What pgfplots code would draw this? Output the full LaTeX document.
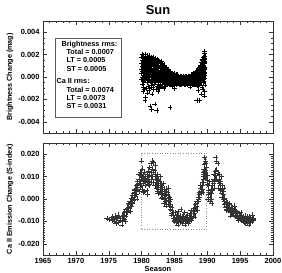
\documentclass[border=0pt]{standalone}
\usepackage{pgfplots}
\usepackage{pgfplotstable}
\pgfplotsset{compat=1.18}
\usepackage{fontspec}
\setmainfont{Liberation Sans}

\pgfplotstableread{
x a b c d e f
1980.0 0.0018 0.0012 0.0007 0.0003 -0.0002 nan
1980.1 0.0020 0.0015 0.0010 0.0005 0.0000 -0.0006
1980.2 0.0017 0.0013 0.0009 0.0004 -0.0001 -0.0013
1980.3 0.0019 0.0014 0.0008 0.0002 -0.0004 -0.0009
1980.4 0.0016 0.0011 0.0006 0.0001 -0.0003 -0.0011
1980.5 0.0020 0.0015 0.0010 0.0006 0.0000 -0.0021
1980.6 0.0018 0.0012 0.0008 0.0003 -0.0002 -0.0018
1980.7 0.0017 0.0013 0.0009 0.0004 -0.0001 -0.0010
1980.8 0.0019 0.0014 0.0010 0.0005 0.0000 -0.0005
1980.9 0.0016 0.0011 0.0007 0.0002 -0.0003 -0.0014
1981.0 0.0018 0.0013 0.0008 0.0004 -0.0001 -0.0008
1981.1 0.0017 0.0012 0.0007 0.0002 -0.0003 -0.0012
1981.2 0.0019 0.0014 0.0009 0.0005 0.0000 -0.0010
1981.3 0.0015 0.0011 0.0006 0.0001 -0.0004 -0.0026
1981.4 0.0018 0.0013 0.0008 0.0003 -0.0002 -0.0007
1981.5 0.0016 0.0012 0.0007 0.0002 -0.0003 -0.0029
1981.6 0.0017 0.0011 0.0006 0.0001 -0.0004 -0.0015
1981.7 0.0015 0.0010 0.0006 0.0002 -0.0002 -0.0009
1981.8 0.0018 0.0012 0.0007 0.0003 -0.0001 -0.0011
1981.9 0.0014 0.0010 0.0005 0.0001 -0.0003 -0.0006
1982.0 0.0016 0.0011 0.0007 0.0002 -0.0002 -0.0024
1982.1 0.0017 0.0012 0.0008 0.0004 0.0000 -0.0005
1982.2 0.0015 0.0010 0.0006 0.0002 -0.0003 -0.0011
1982.3 0.0014 0.0009 0.0005 0.0001 -0.0002 -0.0030
1982.4 0.0016 0.0011 0.0006 0.0002 -0.0003 -0.0008
1982.5 0.0013 0.0009 0.0005 0.0000 -0.0004 -0.0013
1982.6 0.0015 0.0010 0.0006 0.0002 -0.0002 -0.0006
1982.7 0.0014 0.0009 0.0004 0.0000 -0.0003 -0.0010
1982.8 0.0012 0.0008 0.0004 0.0000 -0.0004 -0.0009
1982.9 0.0013 0.0008 0.0003 -0.0001 -0.0004 -0.0007
1983.0 0.0014 0.0010 0.0005 0.0001 -0.0003 -0.0008
1983.1 0.0012 0.0007 0.0003 -0.0001 -0.0005 nan
1983.2 0.0011 0.0007 0.0003 0.0000 -0.0004 -0.0009
1983.3 0.0010 0.0006 0.0002 -0.0002 -0.0005 nan
1983.4 0.0011 0.0006 0.0002 -0.0002 -0.0006 -0.0010
1983.5 0.0009 0.0005 0.0001 -0.0002 -0.0005 nan
1983.6 0.0008 0.0004 0.0001 -0.0003 -0.0006 -0.0008
1983.7 0.0009 0.0005 0.0001 -0.0002 -0.0006 nan
1983.8 0.0007 0.0003 0.0000 -0.0003 -0.0006 nan
1983.9 0.0006 0.0003 -0.0001 -0.0004 -0.0007 nan
1984.0 0.0007 0.0003 0.0000 -0.0003 -0.0006 nan
1984.1 0.0006 0.0002 -0.0001 -0.0003 -0.0006 nan
1984.2 0.0005 0.0002 -0.0001 -0.0004 -0.0007 nan
1984.3 0.0005 0.0001 -0.0002 -0.0004 -0.0006 -0.0027
1984.4 0.0004 0.0001 -0.0002 -0.0005 -0.0007 nan
1984.5 0.0003 0.0001 -0.0002 -0.0004 -0.0007 nan
1984.6 0.0003 0.0000 -0.0003 -0.0005 -0.0008 nan
1984.7 0.0002 0.0000 -0.0002 -0.0005 -0.0007 nan
1984.8 0.0002 -0.0001 -0.0003 -0.0006 nan nan
1984.9 0.0003 0.0000 -0.0003 -0.0005 -0.0007 nan
1985.0 0.0002 -0.0001 -0.0004 -0.0006 nan -0.0010
1985.1 0.0001 -0.0001 -0.0003 -0.0006 nan nan
1985.2 0.0001 -0.0002 -0.0004 -0.0007 nan nan
1985.3 0.0002 -0.0001 -0.0003 -0.0005 -0.0007 nan
1985.4 0.0002 -0.0001 -0.0003 -0.0006 nan nan
1985.5 0.0001 -0.0002 -0.0004 -0.0006 nan nan
1985.6 0.0001 -0.0002 -0.0004 -0.0006 nan nan
1985.7 0.0000 -0.0002 -0.0005 -0.0007 nan nan
1985.8 0.0000 -0.0002 -0.0004 -0.0007 nan nan
1985.9 0.0001 -0.0001 -0.0004 -0.0006 nan nan
1986.0 0.0001 -0.0002 -0.0005 -0.0007 nan nan
1986.1 0.0000 -0.0002 -0.0004 -0.0006 nan nan
1986.2 0.0000 -0.0002 -0.0004 -0.0006 nan nan
1986.3 0.0001 -0.0001 -0.0003 -0.0006 nan nan
1986.4 0.0001 -0.0001 -0.0004 -0.0006 nan nan
1986.5 0.0000 -0.0002 -0.0004 -0.0007 nan nan
1986.6 0.0000 -0.0002 -0.0004 -0.0007 nan nan
1986.7 0.0001 -0.0001 -0.0003 -0.0005 nan nan
1986.8 0.0001 -0.0002 -0.0004 -0.0006 nan nan
1986.9 0.0000 -0.0002 -0.0005 -0.0007 nan nan
1987.0 0.0000 -0.0002 -0.0005 -0.0007 nan nan
1987.1 0.0001 -0.0001 -0.0004 -0.0006 nan nan
1987.2 0.0001 -0.0001 -0.0004 -0.0006 nan nan
1987.3 0.0001 -0.0002 -0.0004 -0.0006 nan nan
1987.4 0.0001 -0.0002 -0.0004 -0.0006 nan -0.0009
1987.5 0.0002 -0.0001 -0.0003 -0.0006 nan nan
1987.6 0.0002 -0.0001 -0.0003 -0.0006 nan nan
1987.7 0.0002 -0.0001 -0.0004 -0.0007 nan nan
1987.8 0.0002 -0.0001 -0.0004 -0.0007 nan nan
1987.9 0.0003 0.0000 -0.0003 -0.0006 nan nan
1988.0 0.0003 0.0000 -0.0003 -0.0006 nan nan
1988.1 0.0004 0.0001 -0.0002 -0.0005 -0.0007 nan
1988.2 0.0004 0.0001 -0.0002 -0.0005 -0.0007 nan
1988.3 0.0005 0.0002 -0.0002 -0.0005 nan nan
1988.4 0.0005 0.0002 -0.0002 -0.0005 -0.0008 -0.0021
1988.5 0.0006 0.0003 -0.0001 -0.0004 -0.0007 nan
1988.6 0.0007 0.0003 -0.0001 -0.0004 -0.0008 -0.0012
1988.7 0.0008 0.0004 0.0000 -0.0003 -0.0007 nan
1988.8 0.0009 0.0005 0.0001 -0.0003 -0.0007 -0.0021
1988.9 0.0010 0.0006 0.0002 -0.0002 -0.0006 nan
1989.0 0.0011 0.0007 0.0003 -0.0001 -0.0005 nan
1989.1 0.0013 0.0009 0.0004 0.0000 -0.0004 -0.0015
1989.2 0.0015 0.0010 0.0006 0.0002 -0.0003 -0.0009
1989.3 0.0016 0.0012 0.0007 0.0003 -0.0002 -0.0011
1989.4 0.0018 0.0013 0.0009 0.0004 0.0000 -0.0005
1989.5 0.0019 0.0015 0.0010 0.0006 0.0001 -0.0004
1989.55 0.0021 0.0016 0.0012 0.0007 0.0002 -0.0017
1989.6 0.0023 0.0017 0.0013 0.0008 0.0004 -0.0013
1989.65 0.0019 0.0014 0.0009 0.0003 -0.0001 -0.0007
}\topdata

\pgfplotstableread{
x a b c d
1974.7 -0.0085 nan nan nan
1975.0 -0.0090 nan nan nan
1975.3 -0.0088 nan nan nan
1975.6 -0.0095 -0.0080 nan nan
1975.9 -0.0100 -0.0085 nan nan
1976.1 -0.0090 -0.0110 nan nan
1976.4 -0.0080 -0.0105 -0.0070 nan
1976.7 -0.0095 -0.0085 nan nan
1977.0 -0.0100 -0.0075 -0.0115 nan
1977.2 -0.0070 -0.0085 nan nan
1977.4 -0.0060 -0.0090 nan nan
1977.6 -0.0055 -0.0045 -0.0075 nan
1977.8 -0.0040 -0.0060 nan nan
1978.0 -0.0035 -0.0050 -0.0020 nan
1978.2 -0.0025 -0.0040 -0.0010 nan
1978.4 -0.0015 0.0005 -0.0030 nan
1978.6 0.0000 -0.0020 0.0015 nan
1978.8 0.0010 0.0025 -0.0005 nan
1979.0 0.0030 0.0015 0.0045 nan
1979.2 0.0040 0.0060 0.0020 nan
1979.4 0.0065 0.0080 0.0045 nan
1979.6 0.0090 0.0110 0.0070 nan
1979.8 0.0105 0.0120 0.0080 0.0055
1980.0 0.0120 0.0170 0.0090 0.0060
1980.1 0.0135 0.0100 0.0045 nan
1980.2 0.0085 0.0110 0.0070 nan
1980.4 0.0080 0.0085 0.0035 0.0120
1980.6 0.0080 0.0095 0.0060 nan
1980.8 0.0085 0.0075 0.0110 0.0040
1981.0 0.0090 0.0125 0.0065 nan
1981.2 0.0105 0.0140 0.0080 nan
1981.4 0.0120 0.0160 0.0090 nan
1981.6 0.0170 0.0135 0.0100 nan
1981.8 0.0165 0.0120 0.0075 nan
1982.0 0.0110 0.0090 0.0130 0.0060
1982.2 0.0100 0.0075 0.0050 nan
1982.4 0.0085 0.0060 0.0110 0.0035
1982.6 0.0070 0.0045 0.0090 nan
1982.8 0.0055 0.0030 0.0080 nan
1983.0 0.0045 0.0020 0.0070 0.0005
1983.2 0.0035 0.0010 0.0055 nan
1983.4 0.0025 0.0000 0.0045 -0.0020
1983.6 0.0015 -0.0010 0.0035 nan
1983.8 0.0020 0.0045 -0.0005 nan
1984.0 0.0030 0.0005 -0.0025 nan
1984.2 0.0010 -0.0030 -0.0010 nan
1984.4 -0.0025 -0.0045 0.0000 nan
1984.6 -0.0050 -0.0065 -0.0035 nan
1984.8 -0.0070 -0.0085 -0.0060 nan
1985.0 -0.0085 -0.0095 -0.0100 nan
1985.2 -0.0090 -0.0105 -0.0080 nan
1985.4 -0.0085 -0.0100 -0.0070 nan
1985.6 -0.0095 -0.0080 -0.0055 nan
1985.8 -0.0090 -0.0105 -0.0075 nan
1986.0 -0.0085 -0.0100 -0.0090 -0.0045
1986.2 -0.0095 -0.0080 -0.0110 nan
1986.4 -0.0090 -0.0100 -0.0075 nan
1986.6 -0.0085 -0.0095 -0.0115 nan
1986.8 -0.0090 -0.0100 -0.0080 nan
1987.0 -0.0085 -0.0095 -0.0070 nan
1987.2 -0.0090 -0.0100 -0.0080 nan
1987.4 -0.0080 -0.0090 -0.0065 nan
1987.6 -0.0075 -0.0085 -0.0095 nan
1987.8 -0.0065 -0.0075 -0.0055 nan
1988.0 -0.0055 -0.0065 -0.0040 nan
1988.2 -0.0035 -0.0045 -0.0025 nan
1988.4 -0.0020 -0.0010 -0.0030 nan
1988.6 0.0000 0.0010 -0.0010 nan
1988.8 0.0020 0.0030 0.0010 nan
1989.0 0.0035 0.0050 0.0025 nan
1989.2 0.0060 0.0075 0.0045 nan
1989.4 0.0090 0.0110 0.0075 nan
1989.5 0.0120 0.0135 0.0100 nan
1989.6 0.0155 0.0125 0.0185 nan
1989.7 0.0170 0.0115 0.0130 0.0100
1989.8 0.0120 0.0095 0.0160 nan
1990.0 0.0105 0.0065 0.0085 nan
1990.2 0.0040 0.0020 0.0060 nan
1990.4 0.0010 -0.0010 0.0030 nan
1990.6 0.0045 0.0000 0.0025 nan
1990.8 0.0060 0.0080 0.0040 nan
1991.0 0.0090 0.0070 0.0110 nan
1991.2 0.0105 0.0125 0.0085 nan
1991.4 0.0170 0.0130 0.0090 nan
1991.6 0.0160 0.0115 0.0080 nan
1991.8 0.0090 0.0070 0.0110 nan
1992.0 0.0060 0.0040 0.0080 nan
1992.2 0.0045 0.0025 0.0060 0.0010
1992.4 0.0020 0.0000 0.0035 nan
1992.6 -0.0010 0.0005 -0.0025 nan
1992.8 -0.0020 -0.0035 -0.0010 nan
1993.0 -0.0030 -0.0045 -0.0015 nan
1993.2 -0.0040 -0.0025 -0.0050 nan
1993.4 -0.0035 -0.0050 -0.0020 nan
1993.6 -0.0045 -0.0060 -0.0035 nan
1993.8 -0.0055 -0.0040 -0.0065 nan
1994.0 -0.0060 -0.0070 -0.0050 nan
1994.2 -0.0055 -0.0075 -0.0045 nan
1994.4 -0.0065 -0.0080 -0.0055 nan
1994.6 -0.0070 -0.0060 -0.0085 nan
1994.8 -0.0075 -0.0080 -0.0065 nan
1995.0 -0.0080 -0.0075 -0.0090 nan
1995.2 -0.0085 -0.0070 -0.0095 nan
1995.4 -0.0090 -0.0080 -0.0100 nan
1995.6 -0.0095 -0.0085 -0.0105 nan
1995.8 -0.0100 -0.0090 -0.0110 nan
1996.0 -0.0090 -0.0105 -0.0080 nan
1996.2 -0.0095 -0.0100 -0.0085 nan
1996.4 -0.0090 -0.0100 -0.0080 nan
1996.6 -0.0085 -0.0095 -0.0105 nan
1996.8 -0.0090 -0.0080 -0.0100 nan
1997.0 -0.0095 -0.0085 -0.0090 nan
}\botdata

\begin{document}
\begin{tikzpicture}
\pgfplotsset{
  panel/.style={
    scale only axis, width=230bp, height=112bp,
    xmin=1965, xmax=2000,
    xtick={1965,1970,1975,1980,1985,1990,1995,2000},
    minor x tick num=4,
    tick align=inside,
    major tick length=4bp, minor tick length=2bp,
    scaled y ticks=false, scaled x ticks=false,
    axis line style={line width=0.6bp, black!80},
    every tick/.style={line width=0.4bp, black!80},
    tick label style={font=\fontsize{7.5}{9}\selectfont\bfseries},
    every axis y label/.style={at={(axis description cs:0,0.5)}, xshift=-33bp, rotate=90, anchor=center, font=\fontsize{7.2}{8}\selectfont\bfseries},
    xlabel style={font=\fontsize{7.5}{9}\selectfont\bfseries, yshift=4bp},
  },
  pts/.style={only marks, mark=+, mark size=2.3bp, black, mark options={line width=0.35bp}},
  bpts/.style={only marks, mark=+, mark size=2.5bp, black!80, mark options={line width=0.35bp}},
}
\begin{axis}[panel, at={(0bp,0bp)}, anchor=south west,
  ymin=-0.025, ymax=0.025,
  ytick={-0.02,-0.01,0,0.01,0.02},
  yticklabels={-0.020,-0.010,0.000,0.010,0.020},
  minor y tick num=9,
  xticklabels={1965,1970,1975,1980,1985,1990,1995,2000},
  xlabel={Season},
  ylabel={Ca II Emission Change (S-index)}]
\addplot[black!45, dotted, line width=0.6bp] coordinates {(1980,-0.0137) (1989.8,-0.0137) (1989.8,0.0205) (1980,0.0205) (1980,-0.0137)};
\pgfplotsinvokeforeach{a,b,c,d}{\addplot[bpts] table[x=x, y=#1] {\botdata};}
\addplot[bpts] coordinates {
(1976.0,-0.0075) (1977.5,-0.0100) (1978.3,-0.0055) (1978.9,0.0040) (1979.3,0.0000)
(1979.7,0.0035) (1980.3,0.0030) (1980.5,0.0100) (1980.9,0.0020) (1981.1,0.0060)
(1981.5,0.0075) (1982.1,0.0150) (1982.5,0.0025) (1982.9,0.0100) (1983.3,0.0070)
(1983.7,-0.0030) (1984.1,0.0050) (1984.5,-0.0070) (1985.1,-0.0060) (1985.5,-0.0115)
(1986.5,-0.0060) (1987.1,-0.0110) (1987.5,-0.0050) (1988.1,-0.0080) (1988.5,-0.0050)
(1988.9,0.0060) (1989.3,0.0030) (1989.9,0.0140) (1990.1,0.0000) (1990.3,0.0080)
(1990.7,-0.0020) (1991.1,0.0050) (1991.3,0.0185) (1991.7,0.0050) (1992.1,0.0100)
(1992.5,0.0050) (1992.9,-0.0050) (1993.5,-0.0075) (1994.1,-0.0030) (1994.7,-0.0095)
(1995.1,-0.0060) (1995.7,-0.0075) (1996.3,-0.0115) (1996.9,-0.0070)};
\end{axis}
\begin{axis}[panel, at={(0bp,122bp)}, anchor=south west,
  ymin=-0.005, ymax=0.005,
  ytick={-0.004,-0.002,0,0.002,0.004},
  yticklabels={-0.004,-0.002,0.000,0.002,0.004},
  minor y tick num=3,
  xticklabels={{},{},{},{},{},{},{},{}},
  ylabel={Brightness Change (mag)}]
\pgfplotsinvokeforeach{a,b,c,d,e,f}{\addplot[pts] table[x=x, y=#1] {\topdata};}
\draw[black!65, line width=0.5bp] (rel axis cs:0.052,0.143) rectangle (rel axis cs:0.339,0.848);
\node[anchor=north west, inner sep=0pt, align=left, font=\fontsize{7.3}{8.3}\selectfont\bfseries] at (rel axis cs:0.058,0.822)
 {\hspace*{5bp}Brightness rms:\\
  \hspace*{10bp}Total = 0.0007\\
  \hspace*{10bp}LT = 0.0005\\
  \hspace*{10bp}ST = 0.0005\\[4.4bp]
  Ca II rms:\\
  \hspace*{10bp}Total = 0.0074\\
  \hspace*{10bp}LT = 0.0073\\
  \hspace*{10bp}ST = 0.0031};
\end{axis}
\node[font=\fontsize{13}{15}\selectfont\bfseries] at (115bp,245bp) {Sun};
\pgfresetboundingbox
\path[use as bounding box] (-43bp,-18bp) rectangle (239bp,255bp);
\end{tikzpicture}
\end{document}
